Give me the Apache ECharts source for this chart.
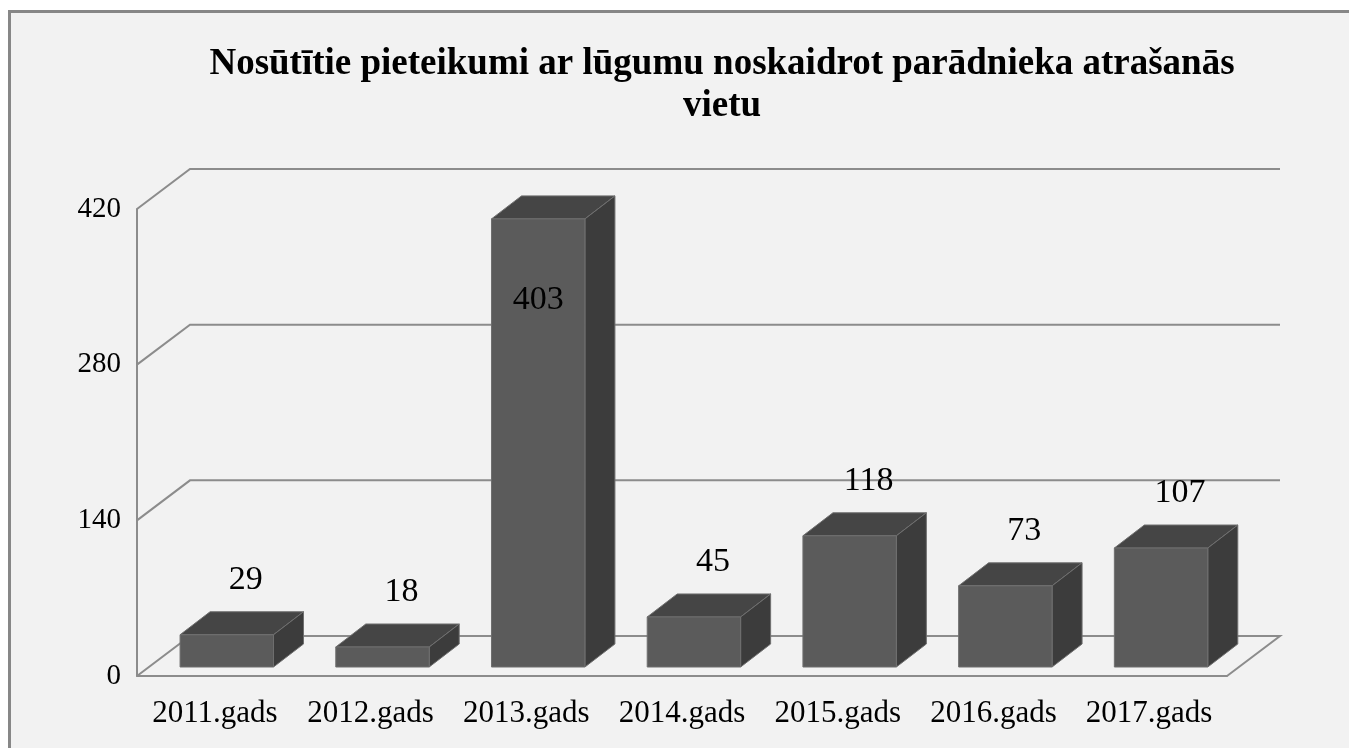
<!DOCTYPE html>
<html>
<head>
<meta charset="utf-8">
<script src="https://cdn.jsdelivr.net/npm/echarts@6/dist/echarts.min.js"></script>
<style>
  html, body { margin: 0; padding: 0; background: #fff; }
  #chart { width: 1349px; height: 748px; }
</style>
</head>
<body>
<div id="chart"></div>
<script>
// dati
const years = ["2011.gads", "2012.gads", "2013.gads", "2014.gads", "2015.gads", "2016.gads", "2017.gads"];
const values = [29, 18, 403, 45, 118, 73, 107];
const yTicks = [0, 140, 280, 420];

// 3D izskats (pikseļos)
const floorDx = 53, floorDy = -40;   // grīdas dziļums
const barDx = 30, barDy = -23;       // stabiņa dziļums
const barFront = 0.225;              // stabiņa priekšpuse grīdas dziļumā

const chart = echarts.init(document.getElementById("chart"));

// sienas un režģa līnijas
function renderWall(params, api) {
  const v = api.value(1);
  const bw = api.size([1, 0])[0];
  const p0 = api.coord([0, v]);
  const p1 = api.coord([years.length - 1, v]);
  const x0 = p0[0] - bw / 2, x1 = p1[0] + bw / 2, y = p0[1];
  let pts = [[x0, y], [x0 + floorDx, y + floorDy], [x1 + floorDx, y + floorDy]];
  if (v === 0) pts.push([x1, y]);
  return {
    type: "polyline",
    shape: { points: pts },
    style: { stroke: "#8c8c8c", lineWidth: 2, fill: null }
  };
}

// stabiņi ar augšu un sānu
function renderBar(params, api) {
  const i = api.value(0), v = api.value(1);
  const base = api.coord([i, 0]);
  const top = api.coord([i, v]);
  const w = api.size([1, 0])[0] * 0.6;
  const fx = base[0] - w / 2 + barFront * floorDx;
  const fb = base[1] + barFront * floorDy;
  const ft = top[1] + barFront * floorDy;
  const edge = { stroke: "#6f6f6f", lineWidth: 1 };
  // etiķetes novietojums
  let lx = fx + (w + barDx) / 2 + 4;
  let ly = ft + barDy - 32;
  if (ly < api.coord([0, 420])[1]) { lx = fx + w / 2; ly = ft + 81; }
  return {
    type: "group",
    children: [
      { type: "polygon", shape: { points: [[fx, ft], [fx + w, ft], [fx + w + barDx, ft + barDy], [fx + barDx, ft + barDy]] },
        style: Object.assign({ fill: "#454545" }, edge) },
      { type: "polygon", shape: { points: [[fx + w, ft], [fx + w + barDx, ft + barDy], [fx + w + barDx, fb + barDy], [fx + w, fb]] },
        style: Object.assign({ fill: "#3c3c3c" }, edge) },
      { type: "rect", shape: { x: fx, y: ft, width: w, height: fb - ft },
        style: Object.assign({ fill: "#5b5b5b" }, edge) },
      { type: "text", x: lx, y: ly,
        style: { text: String(v), fill: "#000", font: "34px 'Liberation Serif'", align: "center", verticalAlign: "middle" } }
    ]
  };
}

chart.setOption({
  backgroundColor: "#fff",
  animation: false,
  graphic: [{
    type: "rect", z: -10, silent: true,
    shape: { x: 9.5, y: 11.5, width: 1400, height: 800 },
    style: { fill: "#f2f2f2", stroke: "#878787", lineWidth: 3 }
  }],
  title: {
    text: "Nosūtītie pieteikumi ar lūgumu noskaidrot parādnieka atrašanās\nvietu",
    left: 717, top: 38, textAlign: "center",
    textStyle: { fontFamily: "Liberation Serif", fontWeight: "bold", fontSize: 37, lineHeight: 42, color: "#000" }
  },
  grid: { left: 137, top: 209, width: 1090, height: 467 },
  xAxis: {
    type: "category",
    data: years,
    axisLine: { lineStyle: { color: "#8c8c8c", width: 2 } },
    axisTick: { show: false },
    axisLabel: { interval: 0, color: "#000", fontFamily: "Liberation Serif", fontSize: 31, margin: 22 }
  },
  yAxis: {
    type: "value",
    min: 0, max: 420, interval: 140,
    axisLine: { show: true, lineStyle: { color: "#8c8c8c", width: 2 } },
    axisTick: { show: false },
    splitLine: { show: false },
    axisLabel: { color: "#000", fontFamily: "Liberation Serif", fontSize: 29, margin: 16 }
  },
  series: [
    { type: "custom", renderItem: renderWall, clip: false, silent: true, z: 1,
      data: yTicks.map(t => [0, t]) },
    { type: "custom", renderItem: renderBar, clip: false, z: 2,
      data: values.map((v, i) => [i, v]) }
  ]
});
</script>
</body>
</html>
